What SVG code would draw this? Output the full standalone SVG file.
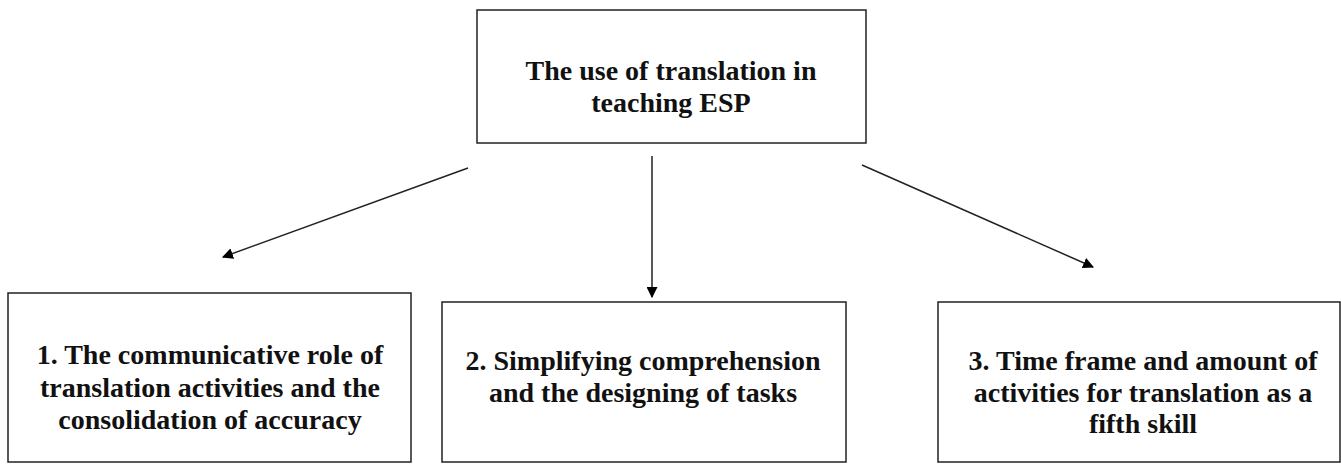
<svg xmlns="http://www.w3.org/2000/svg" width="1341" height="464" viewBox="0 0 1341 464">
<style>
.box{fill:#fff;stroke:#222;stroke-width:1.5}
.t{font-family:'Liberation Serif','Times New Roman',serif;font-weight:700;font-size:28px;fill:#111;text-anchor:middle}
.c{stroke:#222;stroke-width:1.5;fill:none;marker-end:url(#ah)}
</style>
<defs>
<marker id="ah" viewBox="0 0 10 10" refX="9" refY="5" markerWidth="11" markerHeight="11" markerUnits="userSpaceOnUse" orient="auto">
<path d="M0,0 L10,5 L0,10 z" fill="#000"/>
</marker>
</defs>
<rect width="1341" height="464" fill="#fff"/>
<g id="root">
<rect class="box" x="477" y="10" width="389" height="133"/>
<text class="t" x="671" y="80">The use of translation in</text>
<text class="t" x="671" y="112">teaching ESP</text>
</g>
<g id="n1">
<rect class="box" x="8" y="293" width="403" height="169"/>
<text class="t" x="210" y="364">1. The communicative role of</text>
<text class="t" x="210" y="397">translation activities and the</text>
<text class="t" x="210" y="429">consolidation of accuracy</text>
</g>
<g id="n2">
<rect class="box" x="442" y="302" width="404" height="160"/>
<text class="t" x="643" y="370">2. Simplifying comprehension</text>
<text class="t" x="643" y="402">and the designing of tasks</text>
</g>
<g id="n3">
<rect class="box" x="938" y="302" width="402" height="160"/>
<text class="t" x="1143" y="370">3. Time frame and amount of</text>
<text class="t" x="1143" y="402">activities for translation as a</text>
<text class="t" x="1143" y="433">fifth skill</text>
</g>
<g id="connectors">
<line class="c" x1="468" y1="168" x2="223" y2="257"/>
<line class="c" x1="652" y1="156" x2="652" y2="297"/>
<line class="c" x1="862" y1="165" x2="1093" y2="267"/>
</g>
</svg>
